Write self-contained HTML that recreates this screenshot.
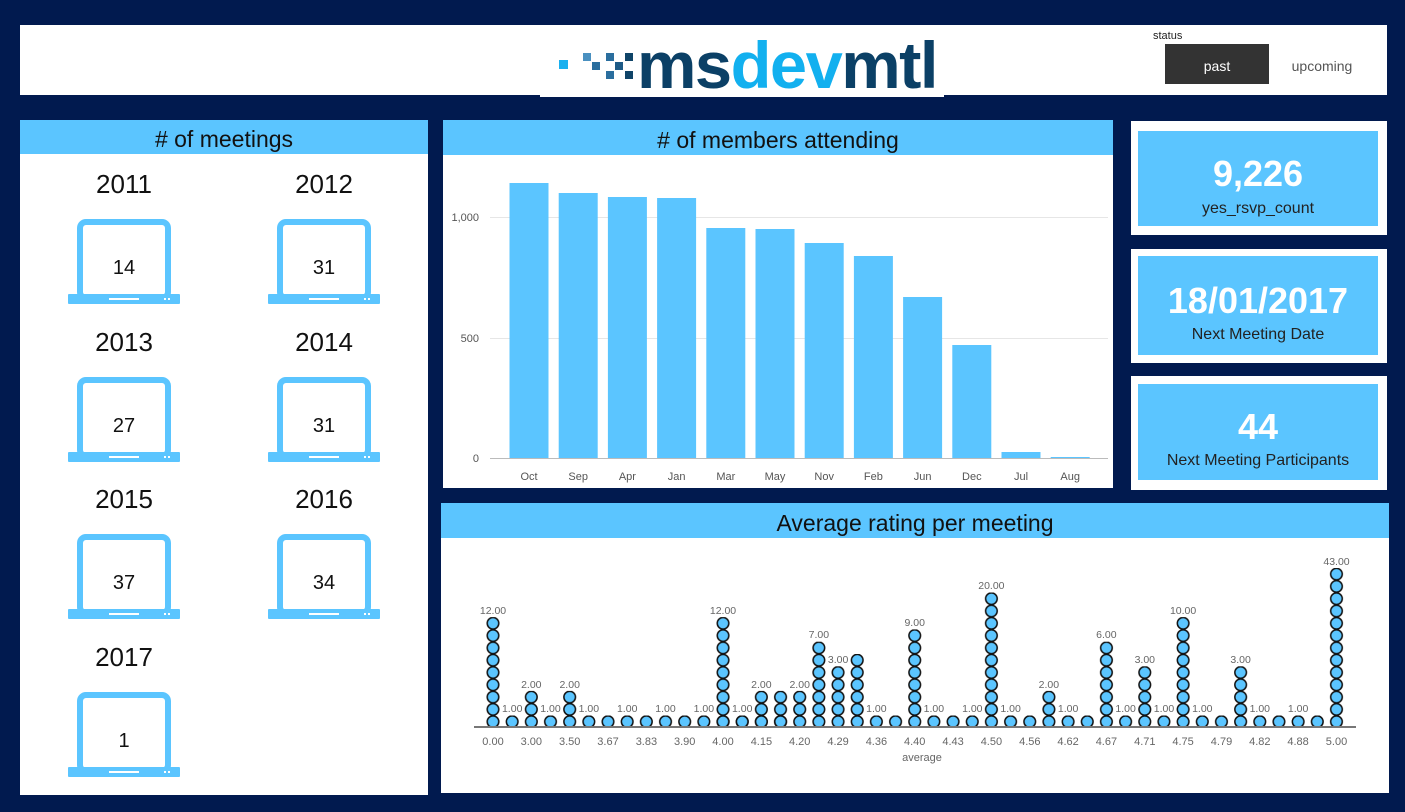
<!DOCTYPE html>
<html><head><meta charset="utf-8"><style>
body{margin:0;width:1405px;height:812px;background:#011a4f;overflow:hidden;font-family:"Segoe UI","Liberation Sans","DejaVu Sans",sans-serif;}
svg{position:absolute;left:0;top:0}
</style></head><body>
<svg width="1405" height="812" viewBox="0 0 1405 812" font-family="Liberation Sans, DejaVu Sans, sans-serif">
<defs>
<pattern id="dots" patternUnits="userSpaceOnUse" x="483.415" y="727.85" width="19.17" height="12.3">
<circle cx="9.585" cy="6.15" r="5.8" fill="#5bc5ff" stroke="#111" stroke-width="1.5"/>
</pattern>
<g id="lap">
<rect x="-44" y="-42" width="88" height="76" rx="6" fill="none" stroke="#5bc5ff" stroke-width="6"/>
<rect x="-56" y="30" width="112" height="10" rx="1" fill="#5bc5ff"/>
<rect x="-15" y="34" width="30" height="2" fill="#fff"/>
<rect x="40" y="34" width="2" height="2" fill="#fff"/><rect x="44" y="34" width="2" height="2" fill="#fff"/>
</g>
</defs>
<!-- header -->
<rect x="20" y="25" width="1367" height="70" fill="#fff"/>
<rect x="540" y="90" width="404" height="7" fill="#fff"/>
<rect x="559" y="60" width="9" height="9" fill="#1ab0ef"/>
<rect x="583" y="53" width="8" height="8" fill="#4a90c0"/>
<rect x="592" y="62" width="8" height="8" fill="#2a6e9e"/>
<rect x="606" y="53" width="8" height="8" fill="#2a6e9e"/>
<rect x="615" y="62" width="8" height="8" fill="#1d5a86"/>
<rect x="606" y="71" width="8" height="8" fill="#2a6e9e"/>
<rect x="625" y="53" width="8" height="8" fill="#0f4468"/>
<rect x="625" y="71" width="8" height="8" fill="#0f4468"/>
<text x="637" y="88" font-size="66" font-weight="bold" fill="#0b4066" letter-spacing="-1.5" textLength="300" lengthAdjust="spacingAndGlyphs">ms<tspan fill="#12b0ef">dev</tspan>mtl</text>
<text x="1153" y="39" font-size="11" fill="#222">status</text>
<rect x="1165" y="44" width="104" height="40" fill="#333"/>
<text x="1217" y="71" font-size="14" fill="#fff" text-anchor="middle">past</text>
<text x="1322" y="71" font-size="14" fill="#555" text-anchor="middle">upcoming</text>

<!-- left panel -->
<rect x="20" y="120" width="408" height="675" fill="#fff"/>
<rect x="20" y="120" width="408" height="34" fill="#5bc5ff"/>
<text x="224" y="147" font-size="23" fill="#111" text-anchor="middle"># of meetings</text>
<g font-size="26" fill="#111" text-anchor="middle">
<text x="124" y="193">2011</text><text x="324" y="193">2012</text>
<text x="124" y="351">2013</text><text x="324" y="351">2014</text>
<text x="124" y="508">2015</text><text x="324" y="508">2016</text>
<text x="124" y="666">2017</text>
</g>
<use href="#lap" x="124" y="264"/><use href="#lap" x="324" y="264"/>
<use href="#lap" x="124" y="422"/><use href="#lap" x="324" y="422"/>
<use href="#lap" x="124" y="579"/><use href="#lap" x="324" y="579"/>
<use href="#lap" x="124" y="737"/>
<g font-size="20" fill="#111" text-anchor="middle">
<text x="124" y="274">14</text><text x="324" y="274">31</text>
<text x="124" y="432">27</text><text x="324" y="432">31</text>
<text x="124" y="589">37</text><text x="324" y="589">34</text>
<text x="124" y="747">1</text>
</g>

<!-- bar chart -->
<rect x="443" y="120" width="670" height="368" fill="#fff"/>
<rect x="443" y="120" width="670" height="35" fill="#5bc5ff"/>
<text x="778" y="148" font-size="23" fill="#111" text-anchor="middle"># of members attending</text>
<g stroke="#e6e6e6" stroke-width="1"><line x1="490" y1="217.5" x2="1108" y2="217.5"/><line x1="490" y1="338.5" x2="1108" y2="338.5"/></g>
<line x1="490" y1="458.5" x2="1108" y2="458.5" stroke="#bbb"/>
<g font-size="11" fill="#555" text-anchor="end"><text x="479" y="221">1,000</text><text x="479" y="342">500</text><text x="479" y="462">0</text></g>
<g fill="#5bc5ff">
<rect x="509.5" y="183" width="39" height="275"/>
<rect x="558.7" y="193" width="39" height="265"/>
<rect x="607.9" y="197" width="39" height="261"/>
<rect x="657.1" y="198" width="39" height="260"/>
<rect x="706.3" y="228" width="39" height="230"/>
<rect x="755.5" y="229" width="39" height="229"/>
<rect x="804.7" y="243" width="39" height="215"/>
<rect x="853.9" y="256" width="39" height="202"/>
<rect x="903.1" y="297" width="39" height="161"/>
<rect x="952.3" y="345" width="39" height="113"/>
<rect x="1001.5" y="452" width="39" height="6"/>
<rect x="1050.7" y="457" width="39" height="1"/>
</g>
<g font-size="11" fill="#555" text-anchor="middle">
<text x="529" y="480">Oct</text><text x="578.2" y="480">Sep</text><text x="627.4" y="480">Apr</text><text x="676.6" y="480">Jan</text><text x="725.8" y="480">Mar</text><text x="775" y="480">May</text><text x="824.2" y="480">Nov</text><text x="873.4" y="480">Feb</text><text x="922.6" y="480">Jun</text><text x="971.8" y="480">Dec</text><text x="1021" y="480">Jul</text><text x="1070.2" y="480">Aug</text>
</g>

<!-- KPI cards -->
<rect x="1131" y="121" width="256" height="114" fill="#fff"/><rect x="1138" y="131" width="240" height="95" fill="#5bc5ff"/>
<rect x="1131" y="249" width="256" height="114" fill="#fff"/><rect x="1138" y="256" width="240" height="99" fill="#5bc5ff"/>
<rect x="1131" y="376" width="256" height="114" fill="#fff"/><rect x="1138" y="384" width="240" height="96" fill="#5bc5ff"/>
<g text-anchor="middle" fill="#fff">
<text x="1258" y="186" font-size="36" font-weight="bold">9,226</text>
<text x="1258" y="313" font-size="36" font-weight="bold">18/01/2017</text>
<text x="1258" y="439" font-size="36" font-weight="bold">44</text>
</g>
<g text-anchor="middle" fill="#222" font-size="16">
<text x="1258" y="213">yes_rsvp_count</text>
<text x="1258" y="339">Next Meeting Date</text>
<text x="1258" y="465">Next Meeting Participants</text>
</g>

<!-- dot plot -->
<rect x="441" y="503" width="948" height="290" fill="#fff"/>
<rect x="441" y="503" width="948" height="35" fill="#5bc5ff"/>
<text x="915" y="531" font-size="23" fill="#111" text-anchor="middle">Average rating per meeting</text>
<g fill="url(#dots)">
<rect x="483.4" y="617.1" width="19.17" height="110.7"/>
<rect x="502.6" y="715.5" width="19.17" height="12.3"/>
<rect x="521.7" y="690.9" width="19.17" height="36.9"/>
<rect x="540.9" y="715.5" width="19.17" height="12.3"/>
<rect x="560.1" y="690.9" width="19.17" height="36.9"/>
<rect x="579.3" y="715.5" width="211" height="12.3"/>
<rect x="713.4" y="617.1" width="19.17" height="110.7"/>
<rect x="732.6" y="715.5" width="19.17" height="12.3"/>
<rect x="751.8" y="690.9" width="57.5" height="36.9"/>
<rect x="809.3" y="641.7" width="19.17" height="86.1"/>
<rect x="828.5" y="666.3" width="19.17" height="61.5"/>
<rect x="847.6" y="654.0" width="19.17" height="73.8"/>
<rect x="866.8" y="715.5" width="38.3" height="12.3"/>
<rect x="905.1" y="629.4" width="19.17" height="98.4"/>
<rect x="924.3" y="715.5" width="57.5" height="12.3"/>
<rect x="981.8" y="592.5" width="19.17" height="135.3"/>
<rect x="1001.0" y="715.5" width="38.3" height="12.3"/>
<rect x="1039.3" y="690.9" width="19.17" height="36.9"/>
<rect x="1058.5" y="715.5" width="38.3" height="12.3"/>
<rect x="1096.8" y="641.7" width="19.17" height="86.1"/>
<rect x="1116.0" y="715.5" width="19.17" height="12.3"/>
<rect x="1135.2" y="666.3" width="19.17" height="61.5"/>
<rect x="1154.4" y="715.5" width="19.17" height="12.3"/>
<rect x="1173.5" y="617.1" width="19.17" height="110.7"/>
<rect x="1192.7" y="715.5" width="38.3" height="12.3"/>
<rect x="1231.0" y="666.3" width="19.17" height="61.5"/>
<rect x="1250.2" y="715.5" width="76.7" height="12.3"/>
<rect x="1326.9" y="568.0" width="19.17" height="159.8"/>
</g>
<line x1="474" y1="727" x2="1356" y2="727" stroke="#777" stroke-width="2"/>
<g font-size="11" fill="#666" text-anchor="middle">
<text x="493" y="745">0.00</text><text x="531.3" y="745">3.00</text><text x="569.7" y="745">3.50</text><text x="608" y="745">3.67</text><text x="646.4" y="745">3.83</text><text x="684.7" y="745">3.90</text><text x="723" y="745">4.00</text><text x="761.4" y="745">4.15</text><text x="799.7" y="745">4.20</text><text x="838.1" y="745">4.29</text><text x="876.4" y="745">4.36</text><text x="914.7" y="745">4.40</text><text x="953.1" y="745">4.43</text><text x="991.4" y="745">4.50</text><text x="1029.8" y="745">4.56</text><text x="1068.1" y="745">4.62</text><text x="1106.4" y="745">4.67</text><text x="1144.8" y="745">4.71</text><text x="1183.1" y="745">4.75</text><text x="1221.5" y="745">4.79</text><text x="1259.8" y="745">4.82</text><text x="1298.1" y="745">4.88</text><text x="1336.5" y="745">5.00</text>
<text x="922" y="761">average</text>
</g>
<g font-size="10.5" fill="#666" text-anchor="middle">
<text x="493" y="614">12.00</text>
<text x="512.2" y="712">1.00</text>
<text x="531.3" y="688">2.00</text>
<text x="550.5" y="712">1.00</text>
<text x="569.7" y="688">2.00</text>
<text x="588.9" y="712">1.00</text>
<text x="627.2" y="712">1.00</text>
<text x="665.5" y="712">1.00</text>
<text x="703.9" y="712">1.00</text>
<text x="723" y="614">12.00</text>
<text x="742.2" y="712">1.00</text>
<text x="761.4" y="688">2.00</text>
<text x="799.7" y="688">2.00</text>
<text x="818.9" y="638">7.00</text>
<text x="838.1" y="663">3.00</text>
<text x="876.4" y="712">1.00</text>
<text x="914.7" y="626">9.00</text>
<text x="933.9" y="712">1.00</text>
<text x="972.3" y="712">1.00</text>
<text x="991.4" y="589">20.00</text>
<text x="1010.6" y="712">1.00</text>
<text x="1048.9" y="688">2.00</text>
<text x="1068.1" y="712">1.00</text>
<text x="1106.4" y="638">6.00</text>
<text x="1125.6" y="712">1.00</text>
<text x="1144.8" y="663">3.00</text>
<text x="1164" y="712">1.00</text>
<text x="1183.1" y="614">10.00</text>
<text x="1202.3" y="712">1.00</text>
<text x="1240.6" y="663">3.00</text>
<text x="1259.8" y="712">1.00</text>
<text x="1298.1" y="712">1.00</text>
<text x="1336.5" y="565">43.00</text>
</g>
</svg>
</body></html>
